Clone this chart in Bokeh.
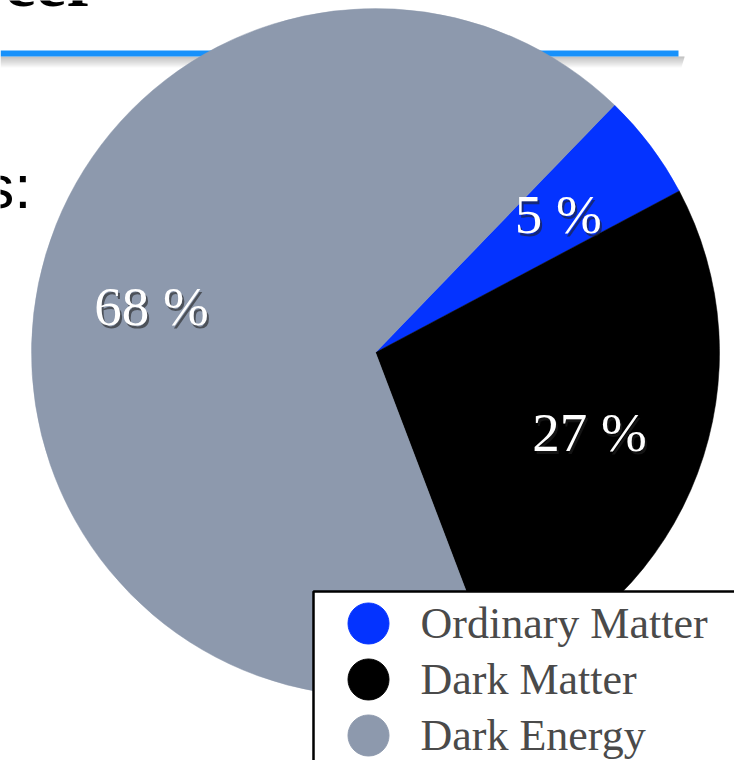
import numpy as np
from bokeh.plotting import figure
from bokeh.models import ColumnDataSource
from bokeh.core.properties import value
from bokeh.embed import file_html
from bokeh.resources import INLINE

# ---- data ----
categories = ["Ordinary Matter", "Dark Matter", "Dark Energy"]
shares = [5, 27, 68]
colors = ["#0433ff", "#000000", "#8d99ad"]

# ---- layout constants ----
W, H = 734, 760
CX, CY, R = 375, 352, 344          # pie centre / radius in screen px
START_DEG = 46                     # top edge of first slice, slices run clockwise
LABEL_FRAC = 0.665


def Y(py):
    return H - py


p = figure(width=W, height=H, x_range=(0, W), y_range=(0, H),
           output_backend="svg", toolbar_location=None, min_border=0,
           x_axis_location=None, y_axis_location=None,
           outline_line_color=None)
p.grid.visible = False
p.background_fill_color = "white"
p.border_fill_color = "white"

# ---- slide decorations behind the pie ----
p.text(x=[97], y=[Y(7)], text=["cer"], text_align="right", y_offset=-25,
       text_baseline="alphabetic", text_font=value("Liberation Serif"),
       text_font_style="bold", text_font_size="70px", text_color="#000000")

for i in range(11):
    p.quad(left=0, right=684 - i * 0.3, top=Y(56 + i), bottom=Y(57 + i),
           fill_color="#7a7a7a", fill_alpha=0.5 * (1 - i / 11.0), line_color=None)
p.quad(left=0, right=678, top=Y(50), bottom=Y(56), fill_color="#1791fb", line_color=None)

p.text(x=[31], y=[Y(207)], text=["s:"], text_align="right", y_offset=-21,
       text_baseline="alphabetic", text_font=value("Liberation Sans"),
       text_font_size="62px", text_color="#000000")

# ---- pie ----
vals = np.array(shares, dtype=float)
frac = vals / vals.sum()
cum = np.concatenate([[0], np.cumsum(frac)[:-1]])
end_ang = START_DEG - cum * 360.0
start_ang = end_ang - frac * 360.0
mid = np.deg2rad((start_ang + end_ang) / 2.0)

src = ColumnDataSource(dict(start=start_ang, end=end_ang, color=colors, cat=categories))
p.wedge(x=CX, y=Y(CY), radius=R, start_angle="start", end_angle="end",
        start_angle_units="deg", end_angle_units="deg",
        fill_color="color", line_color="color", line_width=0.5, source=src)

lx = CX + LABEL_FRAC * R * np.cos(mid)
ly = Y(CY) + LABEL_FRAC * R * np.sin(mid)
labels = [f"{int(v)} %" for v in shares]
lab_src = ColumnDataSource(dict(x=lx, y=ly, t=labels))
p.text(x="x", y="y", text="t", source=lab_src, x_offset=2, y_offset=3,
       text_align="center", text_baseline="middle",
       text_font=value("Liberation Serif"), text_font_size="55px",
       text_color="#222222", text_alpha=0.6)
p.text(x="x", y="y", text="t", source=lab_src,
       text_align="center", text_baseline="middle",
       text_font=value("Liberation Serif"), text_font_size="55px",
       text_color="#ffffff")

# ---- legend box ----
p.quad(left=313, right=W + 20, top=Y(591), bottom=-20,
       fill_color="white", line_color="black", line_width=2.5)
ly_leg = [Y(623 + 56 * i) for i in range(len(categories))]
leg_src = ColumnDataSource(dict(x=[368] * len(categories), y=ly_leg,
                                tx=[420] * len(categories), c=colors, t=categories))
p.scatter(x="x", y="y", size=41, marker="circle", fill_color="c",
          line_color="c", source=leg_src)
p.text(x="tx", y="y", text="t", source=leg_src, text_align="left",
       text_baseline="middle", text_font=value("Liberation Serif"),
       text_font_size="44px", text_color="#4a4a4a")

open("out.html", "w").write(file_html(p, INLINE))
